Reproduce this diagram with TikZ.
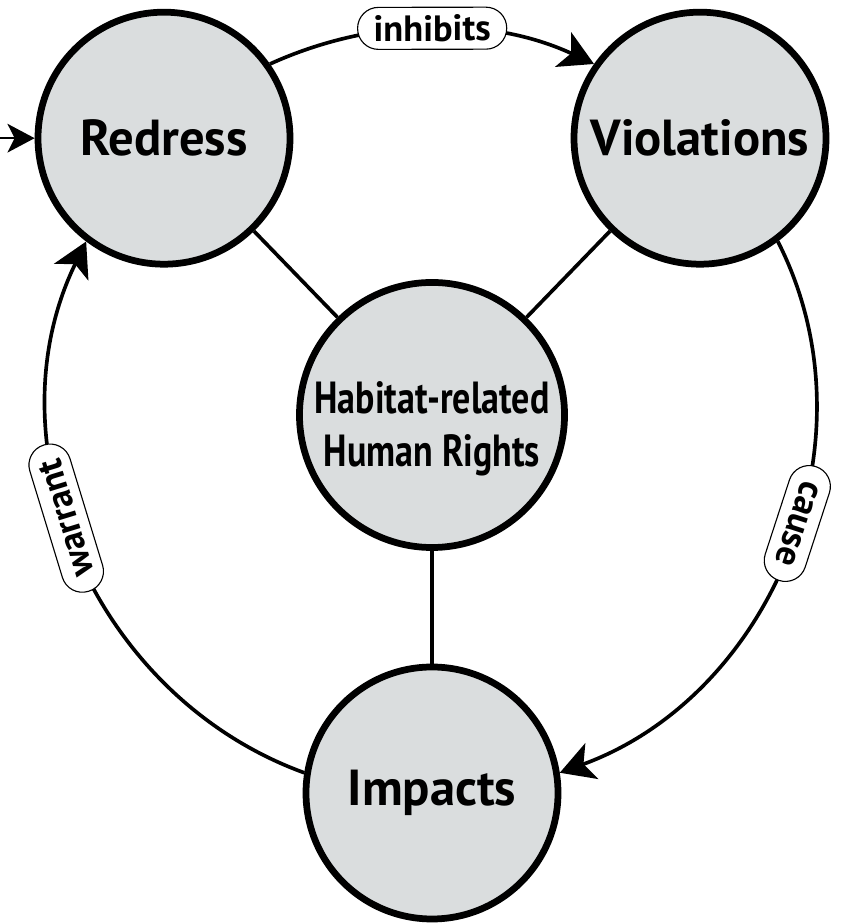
\documentclass[tikz,border=0pt]{standalone}
\usepackage{fontspec}
\setmainfont{PT Sans}
\newfontfamily\narrowfont[FakeStretch=0.8]{PT Sans}
\usetikzlibrary{arrows.meta}
\definecolor{discfill}{RGB}{218,221,222}

\begin{document}
\begin{tikzpicture}[
    disc/.style={circle, draw, fill=discfill, line width=4.8pt, minimum size=6.3cm, inner sep=0pt,
      font=\fontsize{36}{43}\selectfont\bfseries},
    spoke/.style={line width=2.6pt},
    cycle/.style={line width=2.6pt, -{Stealth[length=0.85cm, width=0.95cm, inset=0.22cm]}},
    tag/.style={draw, fill=white, line width=0.8pt, rounded corners=0.52cm, minimum height=1.05cm,
      inner xsep=0.4cm, inner ysep=0pt, font=\fontsize{26}{30}\selectfont\bfseries, sloped, allow upside down}
  ]
  \useasboundingbox (0,0) rectangle (21.15,23.075);
  \node[disc, font=\narrowfont\fontsize{32}{37.7}\selectfont\bfseries, align=center] (hrr) at (10.8,12.7)
    {\rule{0pt}{1.5cm}Habitat-related\\Human Rights};
  \node[disc] (redress) at (4.1,19.62) {Redress};
  \node[disc] (violations) at (17.5,19.62) {Violations};
  \node[disc] (impacts) at (10.8,3.25) {Impacts};
  \coordinate (entry) at (0,19.62);

  \draw[spoke] (redress) -- (hrr);
  \draw[spoke] (violations) -- (hrr);
  \draw[spoke, line width=2.2pt] (hrr) -- (impacts);

  \draw[cycle] (redress.35) to[out=24.5, in=155, looseness=0.9] node[tag] {inhibits} (violations.145);
  \draw[cycle] (violations.-53) to[out=-63, in=20] node[tag, pos=0.45] {cause} (impacts.9);
  \draw[cycle] (impacts.171) to[out=160, in=244] node[tag, pos=0.56] {warrant} (redress.233);
  \draw[line width=1pt, -{Stealth[length=0.68cm, width=0.72cm, inset=0.18cm]}] (entry) -- (redress);
\end{tikzpicture}
\end{document}
